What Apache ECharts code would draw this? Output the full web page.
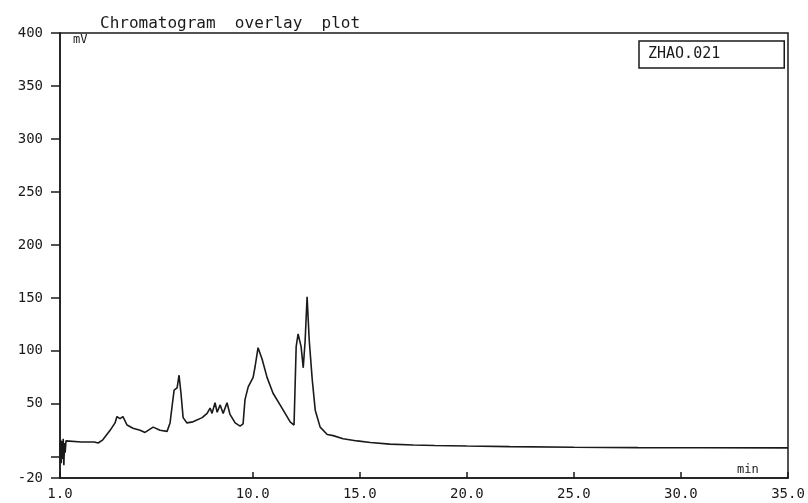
<!DOCTYPE html>
<html>
<head>
<meta charset="utf-8">
<script src="https://cdn.jsdelivr.net/npm/echarts@6/dist/echarts.min.js"></script>
<style>
html,body{margin:0;padding:0;background:#fff;}
#chart{width:808px;height:503px;}
</style>
</head>
<body>
<div id="chart"></div>
<script>
const seriesName = 'ZHAO.021';
const times = [1.0,1.03,1.06,1.09,1.12,1.15,1.18,1.21,1.24,1.28,1.35,2.0,2.6,2.78,3.0,3.34,3.57,3.66,3.8,3.94,4.13,4.41,4.74,4.97,5.35,5.67,6.0,6.14,6.23,6.33,6.47,6.56,6.65,6.75,6.93,7.21,7.64,7.87,8.01,8.1,8.24,8.34,8.48,8.62,8.8,8.94,9.18,9.41,9.55,9.64,9.79,10.02,10.11,10.25,10.44,10.67,10.95,11.37,11.75,11.93,12.03,12.12,12.26,12.36,12.45,12.54,12.64,12.78,12.92,13.15,13.48,13.76,14.22,14.88,15.5,16.4,17.5,18.5,20.0,22.0,25.0,28.0,31.0,35.0];
const signal = [2,16,-6,15,-2,17,-8,13,4,15,14,14,14,13,16,25,32,38,36,38,30,27,25,23,28,25,24,32,47,63,65,77,60,37,32,33,37,41,46,41,51,42,49,41,51,40,32,29,31,54,66,75,85,103,92,75,60,46,33,30,104,116,104,84,110,151,110,73,44,28,21,20,17,15,13.5,12,11.2,10.7,10.2,9.6,9.0,8.7,8.5,8.4];
const xTicks = [1,10,15,20,25,30,35];
const yTicks = [-20,0,50,100,150,200,250,300,350,400];
const yLabels = [-20,50,100,150,200,250,300,350,400];
const titleText = 'Chromatogram  overlay  plot';
const yUnit = 'mV';
const xUnit = 'min';

const data = times.map((t, i) => [t, signal[i]]);
const mono = 'DejaVu Sans Mono';
const ink = '#1a1a1a';

const chart = echarts.init(document.getElementById('chart'), null, {renderer: 'canvas'});
chart.setOption({
  backgroundColor: '#fff',
  animation: false,
  title: {
    text: titleText,
    left: 95, top: 11,
    textStyle: {fontFamily: mono, fontSize: 16, fontWeight: 'normal', color: ink}
  },
  legend: {
    data: [{name: seriesName, icon: 'none'}],
    left: 639, top: 41,
    itemWidth: 0, itemHeight: 0, itemGap: 0,
    borderColor: ink, borderWidth: 1.5,
    padding: [6, 64, 6, 4],
    textStyle: {fontFamily: mono, fontSize: 15, color: ink}
  },
  grid: {
    left: 60, right: 20, top: 33, bottom: 25,
    show: true, borderColor: ink, borderWidth: 1.5, containLabel: false
  },
  xAxis: {
    type: 'value', min: 1, max: 35,
    axisLine: {show: true, onZero: false, lineStyle: {color: ink, width: 1.5}},
    axisTick: {show: true, inside: true, length: 6, customValues: xTicks, lineStyle: {color: ink, width: 1.5}},
    axisLabel: {customValues: xTicks, margin: 9, fontFamily: mono, fontSize: 14, color: ink,
      formatter: v => v.toFixed(1)},
    splitLine: {show: false}
  },
  yAxis: {
    type: 'value', min: -20, max: 400,
    axisLine: {show: true, onZero: false, lineStyle: {color: ink, width: 1.5}},
    axisTick: {show: true, inside: false, length: 9, customValues: yTicks, lineStyle: {color: ink, width: 1.5}},
    axisLabel: {customValues: yLabels, margin: 17, fontFamily: mono, fontSize: 14, color: ink},
    splitLine: {show: false}
  },
  graphic: [
    {type: 'text', left: 73, top: 34, style: {text: yUnit, font: '12px "DejaVu Sans Mono"', fill: ink}},
    {type: 'text', left: 737, top: 464, style: {text: xUnit, font: '12px "DejaVu Sans Mono"', fill: ink}}
  ],
  series: [{
    name: seriesName,
    type: 'line',
    data: data,
    showSymbol: false,
    smooth: false,
    lineStyle: {color: ink, width: 1.6},
    itemStyle: {color: ink}
  }]
});
</script>
</body>
</html>
